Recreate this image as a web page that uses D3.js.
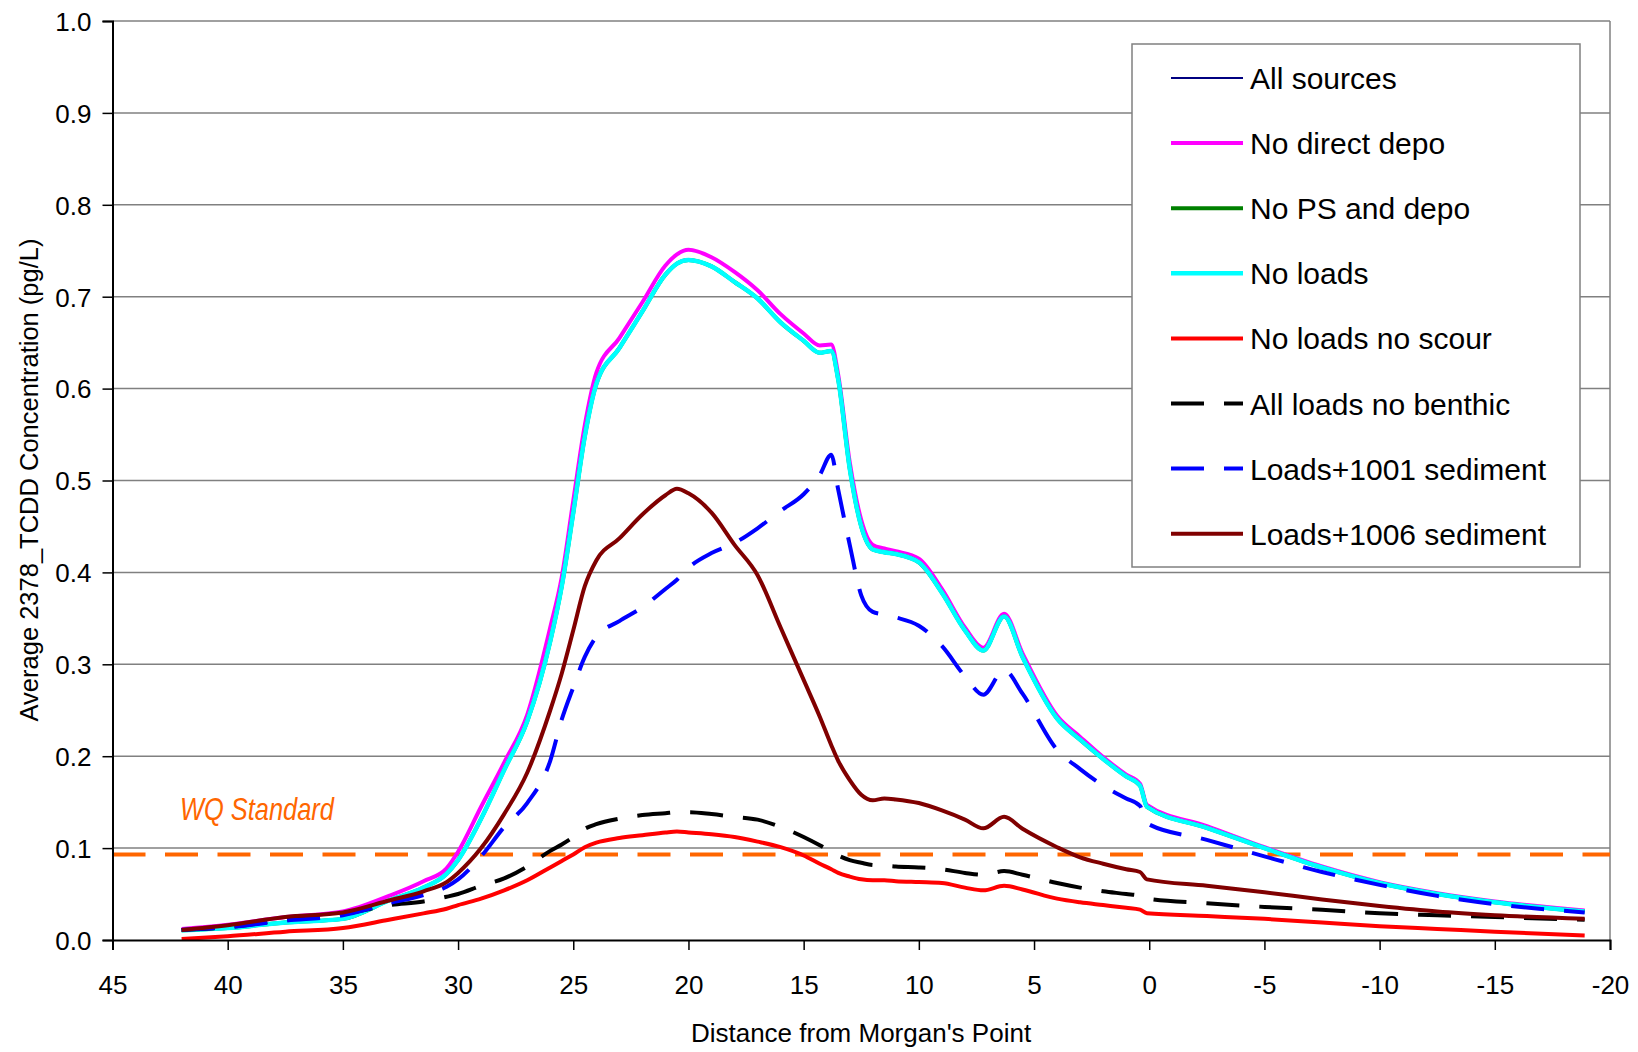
<!DOCTYPE html>
<html>
<head>
<meta charset="utf-8">
<script src="https://cdn.jsdelivr.net/npm/d3@7"></script>
<style>
  body { margin: 0; background: #fff; }
  text { font-family: "Liberation Sans", Arial, sans-serif; fill: #000; }
</style>
</head>
<body>
<div id="vis"></div>
<script>
const FRAME_WIDTH = 1638;
const FRAME_HEIGHT = 1052;
const PLOT = {left: 112.5, right: 1610, top: 21, bottom: 940};

// distance from Morgan's Point (x values shared by every series)
const distances = [42, 40, 37.5, 35, 33, 31.5, 30.5, 30, 29, 28, 27, 26, 25.5, 25, 24.5, 24, 23, 22, 21, 20.5,
  20, 19, 18, 17, 16, 15, 14.3, 13.8, 13.5, 13, 12.5, 12, 11.5, 11, 10, 9, 8, 7.2, 6.3, 5.5,
  4, 3, 2, 1, 0.4, 0.1, -2.5, -5, -7.5, -10, -12.5, -15, -18.9];

const allSources = [0.012, 0.0165, 0.025, 0.031, 0.048, 0.064, 0.078, 0.096, 0.145, 0.193, 0.245, 0.34, 0.395, 0.478, 0.56, 0.617, 0.655, 0.694, 0.734, 0.746,
  0.751, 0.743, 0.727, 0.707, 0.681, 0.660, 0.647, 0.648, 0.615, 0.52, 0.457, 0.430, 0.426, 0.423, 0.415, 0.382, 0.340, 0.318, 0.355, 0.312,
  0.244, 0.221, 0.199, 0.180, 0.170, 0.147, 0.124, 0.101, 0.080, 0.063, 0.051, 0.042, 0.032];
const noDirectDepo = [0.012, 0.0165, 0.025, 0.031, 0.048, 0.064, 0.078, 0.096, 0.145, 0.193, 0.245, 0.34, 0.395, 0.478, 0.56, 0.617, 0.655, 0.694, 0.734, 0.746,
  0.751, 0.743, 0.727, 0.707, 0.681, 0.660, 0.647, 0.648, 0.615, 0.52, 0.457, 0.430, 0.426, 0.423, 0.415, 0.382, 0.340, 0.318, 0.355, 0.312,
  0.244, 0.221, 0.199, 0.180, 0.170, 0.147, 0.124, 0.101, 0.080, 0.063, 0.051, 0.042, 0.032];
const noPSAndDepo = [0.0105, 0.013, 0.019, 0.023, 0.043, 0.057, 0.072, 0.087, 0.132, 0.185, 0.238, 0.325, 0.385, 0.465, 0.548, 0.605, 0.644, 0.684, 0.724, 0.736,
  0.740, 0.733, 0.716, 0.698, 0.672, 0.652, 0.639, 0.641, 0.61, 0.513, 0.45, 0.425, 0.422, 0.42, 0.411, 0.378, 0.337, 0.315, 0.352, 0.308,
  0.241, 0.218, 0.197, 0.178, 0.168, 0.145, 0.122, 0.100, 0.079, 0.062, 0.050, 0.041, 0.031];
const noLoads = [0.0105, 0.013, 0.019, 0.023, 0.043, 0.057, 0.072, 0.087, 0.132, 0.185, 0.238, 0.325, 0.385, 0.465, 0.548, 0.605, 0.644, 0.684, 0.724, 0.736,
  0.740, 0.733, 0.716, 0.698, 0.672, 0.652, 0.639, 0.641, 0.61, 0.513, 0.45, 0.425, 0.422, 0.42, 0.411, 0.378, 0.337, 0.315, 0.352, 0.308,
  0.241, 0.218, 0.197, 0.178, 0.168, 0.145, 0.122, 0.100, 0.079, 0.062, 0.050, 0.041, 0.031];
const noLoadsNoScour = [0.001, 0.004, 0.009, 0.013, 0.022, 0.029, 0.034, 0.038, 0.045, 0.054, 0.065, 0.079, 0.086, 0.093, 0.101, 0.106, 0.111, 0.114, 0.117, 0.118,
  0.117, 0.115, 0.112, 0.107, 0.101, 0.092, 0.083, 0.077, 0.073, 0.069, 0.066, 0.065, 0.065, 0.064, 0.063, 0.062, 0.057, 0.054, 0.059, 0.055,
  0.045, 0.041, 0.038, 0.035, 0.033, 0.029, 0.026, 0.023, 0.019, 0.015, 0.012, 0.009, 0.005];
const allLoadsNoBenthic = [0.011, 0.014, 0.022, 0.028, 0.038, 0.042, 0.047, 0.050, 0.059, 0.067, 0.080, 0.097, 0.104, 0.112, 0.121, 0.126, 0.132, 0.136, 0.138, 0.139,
  0.139, 0.137, 0.134, 0.131, 0.123, 0.112, 0.103, 0.096, 0.092, 0.087, 0.084, 0.0815, 0.081, 0.080, 0.079, 0.077, 0.073, 0.071, 0.075, 0.071,
  0.062, 0.057, 0.053, 0.050, 0.048, 0.045, 0.040, 0.036, 0.033, 0.029, 0.027, 0.025, 0.022];
const loads1001 = [0.011, 0.014, 0.021, 0.027, 0.040, 0.049, 0.058, 0.066, 0.091, 0.123, 0.149, 0.195, 0.24, 0.275, 0.308, 0.330, 0.347, 0.362, 0.382, 0.392,
  0.405, 0.421, 0.432, 0.448, 0.467, 0.485, 0.506, 0.528, 0.49, 0.43, 0.375, 0.357, 0.354, 0.351, 0.342, 0.32, 0.287, 0.267, 0.294, 0.268,
  0.207, 0.186, 0.168, 0.154, 0.146, 0.127, 0.109, 0.091, 0.074, 0.060, 0.048, 0.039, 0.030];
const loads1006 = [0.011, 0.016, 0.025, 0.030, 0.043, 0.053, 0.063, 0.073, 0.100, 0.137, 0.182, 0.25, 0.29, 0.337, 0.385, 0.413, 0.437, 0.463, 0.484, 0.491,
  0.486, 0.465, 0.43, 0.397, 0.34, 0.283, 0.243, 0.212, 0.195, 0.174, 0.158, 0.152, 0.154, 0.153, 0.149, 0.141, 0.131, 0.1215, 0.134, 0.121,
  0.101, 0.090, 0.083, 0.077, 0.074, 0.066, 0.059, 0.052, 0.044, 0.037, 0.031, 0.027, 0.023];

const seriesNames = ["All sources", "No direct depo", "No PS and depo", "No loads", "No loads no scour",
  "All loads no benthic", "Loads+1001 sediment", "Loads+1006 sediment"];
const seriesValues = [allSources, noDirectDepo, noPSAndDepo, noLoads, noLoadsNoScour, allLoadsNoBenthic, loads1001, loads1006];

const yTicks = [0, 0.1, 0.2, 0.3, 0.4, 0.5, 0.6, 0.7, 0.8, 0.9, 1.0];
const xTicks = [45, 40, 35, 30, 25, 20, 15, 10, 5, 0, -5, -10, -15, -20];
const wqStandard = 0.093;

// line looks per series, in the same order as seriesNames
const STYLES = [
  {color: "#000080", width: 2, dash: null},
  {color: "#ff00ff", width: 4, dash: null},
  {color: "#008000", width: 4, dash: null},
  {color: "#00ffff", width: 4.5, dash: null},
  {color: "#ff0000", width: 4, dash: null},
  {color: "#000000", width: 4, dash: "33,20"},
  {color: "#0000ff", width: 4, dash: "33,20"},
  {color: "#800000", width: 4, dash: null}
];

const svg = d3.select("#vis").append("svg")
  .attr("width", FRAME_WIDTH)
  .attr("height", FRAME_HEIGHT);

const X = d3.scaleLinear().domain([45, -20]).range([PLOT.left, PLOT.right]);
const Y = d3.scaleLinear().domain([0, 1]).range([PLOT.bottom, PLOT.top]);

// gridlines
svg.append("g").selectAll("line")
  .data(yTicks.filter(d => d > 0))
  .enter().append("line")
    .attr("x1", PLOT.left).attr("x2", PLOT.right)
    .attr("y1", d => Y(d)).attr("y2", d => Y(d))
    .attr("stroke", "#808080").attr("stroke-width", 1.5);

// right border
svg.append("line")
  .attr("x1", PLOT.right).attr("x2", PLOT.right)
  .attr("y1", PLOT.top).attr("y2", PLOT.bottom)
  .attr("stroke", "#808080").attr("stroke-width", 1.5);

// WQ standard line + label
svg.append("line")
  .attr("x1", PLOT.left).attr("x2", PLOT.right)
  .attr("y1", Y(wqStandard)).attr("y2", Y(wqStandard))
  .attr("stroke", "#ff6600").attr("stroke-width", 4)
  .attr("stroke-dasharray", "33,19.5");

svg.append("g")
  .attr("transform", "translate(180,820) scale(0.82,1)")
  .append("text")
    .attr("font-size", "31px")
    .attr("font-style", "italic")
    .style("fill", "#ff6600")
    .text("WQ Standard");

// series
const line = d3.line()
  .x((d, i) => X(distances[i]))
  .y(d => Y(d))
  .curve(d3.curveMonotoneX);

svg.append("g").selectAll("path")
  .data(seriesValues)
  .enter().append("path")
    .attr("d", d => line(d))
    .attr("fill", "none")
    .attr("stroke", (d, i) => STYLES[i].color)
    .attr("stroke-width", (d, i) => STYLES[i].width)
    .attr("stroke-dasharray", (d, i) => STYLES[i].dash)
    .attr("stroke-linejoin", "round");

// axes
const yAxis = svg.append("g")
  .attr("transform", "translate(" + PLOT.left + ",0)")
  .call(d3.axisLeft(Y).tickValues(yTicks).tickFormat(d3.format(".1f")).tickSize(10).tickPadding(11));

const xAxis = svg.append("g")
  .attr("transform", "translate(0," + PLOT.bottom + ")")
  .call(d3.axisBottom(X).tickValues(xTicks).tickFormat(d3.format("d")).tickSize(10).tickPadding(26));

[yAxis, xAxis].forEach(a => {
  a.select(".domain").attr("stroke", "#000").attr("stroke-width", 2);
  a.selectAll(".tick line").attr("stroke", "#000").attr("stroke-width", 1.5);
  a.selectAll(".tick text")
    .attr("font-family", "Liberation Sans, Arial, sans-serif")
    .attr("font-size", "26px")
    .attr("fill", "#000");
});
yAxis.selectAll(".tick text").attr("dy", "0.36em");
xAxis.selectAll(".tick text").text(d => d < 0 ? "-" + Math.abs(d) : d);

// axis titles
svg.append("text")
  .attr("x", 861).attr("y", 1042)
  .attr("text-anchor", "middle")
  .attr("font-size", "26px")
  .text("Distance from Morgan's Point");

svg.append("text")
  .attr("transform", "translate(38,480) rotate(-90)")
  .attr("text-anchor", "middle")
  .attr("font-size", "25.5px")
  .text("Average 2378_TCDD Concentration (pg/L)");

// legend
const legend = svg.append("g");
legend.append("rect")
  .attr("x", 1132).attr("y", 44)
  .attr("width", 448).attr("height", 523)
  .attr("fill", "#fff")
  .attr("stroke", "#808080").attr("stroke-width", 1.5);

const rows = legend.selectAll("g.row")
  .data(seriesNames)
  .enter().append("g")
    .attr("class", "row")
    .attr("transform", (d, i) => "translate(0," + (78 + i * 65.1) + ")");

rows.append("line")
  .attr("x1", 1171).attr("x2", 1243)
  .attr("stroke", (d, i) => STYLES[i].color)
  .attr("stroke-width", (d, i) => STYLES[i].width)
  .attr("stroke-dasharray", (d, i) => STYLES[i].dash);

rows.append("text")
  .attr("x", 1250).attr("y", 11)
  .attr("font-size", "30px")
  .text(d => d);
</script>
</body>
</html>
